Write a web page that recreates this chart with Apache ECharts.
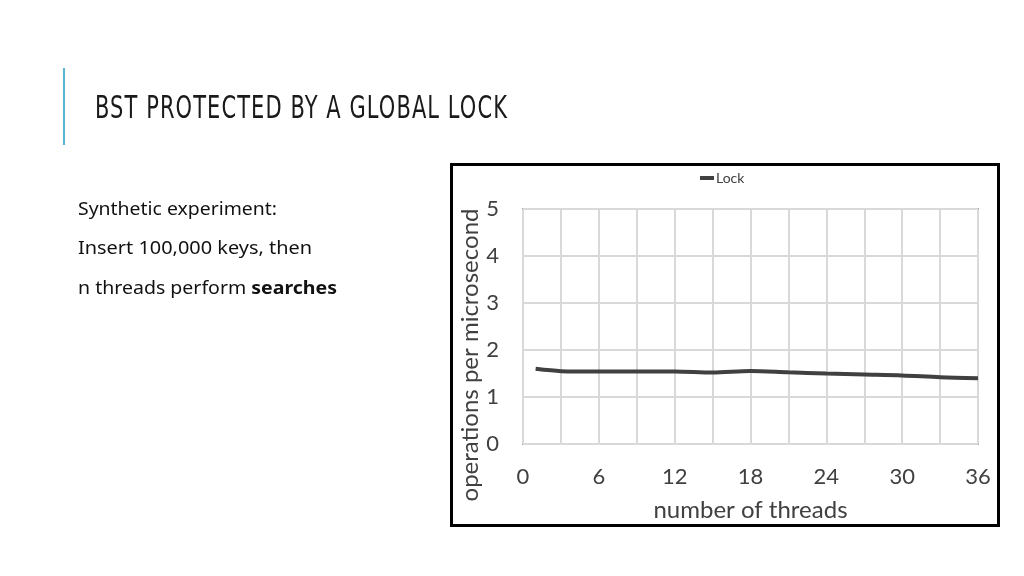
<!DOCTYPE html>
<html><head><meta charset="utf-8">
<script src="https://cdn.jsdelivr.net/npm/echarts@6/dist/echarts.min.js"></script>
<style>
html,body{margin:0;padding:0;background:#fff;}
#wrap{position:relative;width:1024px;height:576px;overflow:hidden;}
#chart{position:absolute;left:0;top:0;width:1024px;height:576px;}
.t{position:absolute;white-space:nowrap;color:#111;transform-origin:0 50%;}
#title{left:95px;top:88px;font-family:"DejaVu Sans Condensed","DejaVu Sans",sans-serif;font-stretch:condensed;font-size:32px;letter-spacing:1.5px;color:#1a1a1a;}
.body{font-family:"Noto Sans","DejaVu Sans",sans-serif;font-size:18px;left:78px;color:#111;}
#bar{position:absolute;left:63px;top:68px;width:2px;height:77px;background:#5bb5cf;}
</style></head>
<body><div id="wrap">
<div id="chart"></div>
<div id="bar"></div>
<div id="title" class="t" data-w="413">BST PROTECTED BY A GLOBAL LOCK</div>
<div class="t body" style="top:196px" data-w="199">Synthetic experiment:</div>
<div class="t body" style="top:235px" data-w="234">Insert 100,000 keys, then</div>
<div class="t body" style="top:275px" data-w="259">n threads perform <b>searches</b></div>
</div>
<script>
const threads = [1, 3, 6, 9, 12, 15, 18, 21, 24, 27, 30, 33, 36];
const lockOps = [1.60, 1.55, 1.54, 1.54, 1.545, 1.52, 1.555, 1.525, 1.50, 1.48, 1.46, 1.42, 1.40];
const seriesName = 'Lock';
const xAxisName = 'number of threads';
const yAxisName = 'operations per microsecond';

// fit slide text widths
document.querySelectorAll('[data-w]').forEach(el => {
  const w = el.getBoundingClientRect().width;
  const target = +el.dataset.w;
  el.style.transform = 'scaleX(' + (target / w) + ')';
});

const chart = echarts.init(document.getElementById('chart'));
const font = 'Lato, "Open Sans", sans-serif';
chart.setOption({
  animation: false,
  backgroundColor: 'transparent',
  graphic: [{
    type: 'rect', shape: {x: 451.5, y: 164.5, width: 547, height: 361},
    style: {fill: 'none', stroke: '#000', lineWidth: 3}
  }, {
    type: 'text', x: 470, y: 355, rotation: Math.PI / 2,
    style: {text: yAxisName, fontFamily: font, fontSize: 24, fill: '#404040', align: 'center', verticalAlign: 'middle'}
  }],
  legend: {
    data: [seriesName], left: 695, top: 166, icon: 'rect', itemWidth: 14, itemHeight: 4,
    itemGap: 2, textStyle: {fontFamily: font, fontSize: 14, color: '#404040', padding: [0,0,0,-3]}
  },
  grid: {left: 523, top: 209, width: 455, height: 235, show: true, borderColor: '#595959', borderWidth: 1.5, backgroundColor: 'transparent'},
  xAxis: {
    type: 'value', min: 0, max: 36, interval: 3,
    name: xAxisName, nameLocation: 'middle', nameGap: 54,
    nameTextStyle: {fontFamily: font, fontSize: 24, color: '#404040'},
    axisLine: {show: false}, axisTick: {show: false},
    axisLabel: {fontFamily: font, fontSize: 22, color: '#404040', margin: 22,
      formatter: v => (v % 6 === 0 ? String(v) : '')},
    splitLine: {show: true, lineStyle: {color: '#d9d9d9', width: 2}}
  },
  yAxis: {
    type: 'value', min: 0, max: 5, interval: 1,
    axisLine: {show: false}, axisTick: {show: false},
    axisLabel: {fontFamily: font, fontSize: 22, color: '#404040', margin: 24},
    splitLine: {show: true, lineStyle: {color: '#d9d9d9', width: 2}}
  },
  series: [{
    name: seriesName, type: 'line', data: threads.map((t, i) => [t, lockOps[i]]),
    showSymbol: false, smooth: 0.3,
    lineStyle: {color: '#404040', width: 4}, itemStyle: {color: '#404040'}
  }]
});
</script>
</body></html>
